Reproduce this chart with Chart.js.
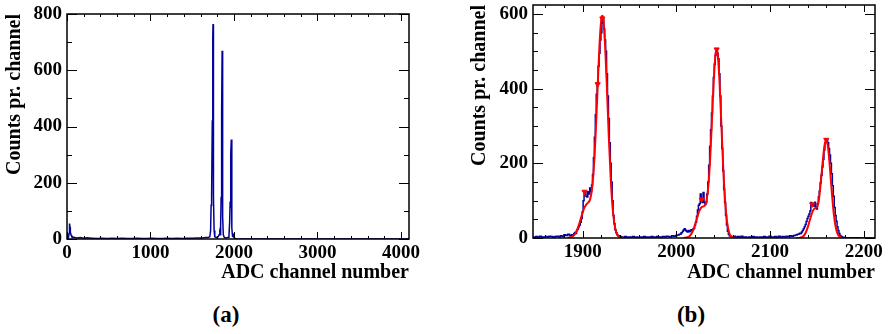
<!DOCTYPE html>
<html>
<head>
<meta charset="utf-8">
<script src="https://cdn.jsdelivr.net/npm/chart.js@4.4.0/dist/chart.umd.min.js"></script>
<style>
  html, body { margin: 0; padding: 0; background: #fff; }
  #wrap { position: relative; width: 893px; height: 334px; overflow: hidden; }
  canvas { position: absolute; top: 0; }
  #chartA { left: 0; }
  #chartB { left: 440px; }
  .caption { position: absolute; top: 302px; transform: translateX(-50%);
             font-weight: bold; font-size: 23px; color: #000;
             font-family: 'Liberation Serif', 'Times New Roman', Times, 'DejaVu Serif', serif; }
</style>
</head>
<body>
<div id="wrap">
  <canvas id="chartA" width="440" height="290"></canvas>
  <canvas id="chartB" width="453" height="290"></canvas>
  <div class="caption" style="left:226px">(a)</div>
  <div class="caption" style="left:691px">(b)</div>
</div>
<script>
// (a) 全譜
const leftChannels = [0, 16, 24, 28, 32, 36, 40, 48, 56, 64, 80, 96, 120, 160, 200, 240, 300, 360, 420, 480,
  540, 600, 660, 720, 780, 840, 900, 960, 1020, 1080, 1140, 1200, 1260, 1320, 1380, 1440, 1500, 1560, 1620,
  1660, 1690, 1710, 1720, 1726, 1730, 1734, 1740, 1746, 1749, 1752, 1756, 1762, 1770, 1790, 1810, 1822, 1830,
  1836, 1840, 1846, 1850, 1854, 1858, 1862, 1866, 1872, 1885, 1910, 1930, 1940, 1948, 1954, 1958, 1964, 1968,
  1972, 1976, 1982, 1990, 1997, 2002, 2010, 2020, 2500, 3000, 4096];
const leftCounts = [0, 2, 20, 48, 55, 42, 25, 14, 9, 7, 6, 5, 4, 5, 3, 4, 3, 2, 3, 2,
  3, 2, 3, 2, 2, 3, 2, 2, 3, 2, 2, 3, 2, 3, 2, 3, 3, 4, 4,
  5, 5, 8, 30, 120, 168, 150, 420, 720, 764, 500, 150, 30, 8, 5, 8, 15, 22,
  15, 50, 150, 130, 450, 669, 380, 80, 15, 5, 4, 6, 12, 60, 133, 110, 300, 354,
  180, 40, 10, 8, 20, 5, 1, 0, 0, 0, 0];

// (b) 放大的三個峰
const rightChannels = [1847, 1849, 1851, 1853, 1855, 1857, 1859, 1861, 1863, 1865, 1867, 1869, 1871, 1873, 1875,
  1877, 1879, 1881, 1883, 1885, 1887, 1889, 1890, 1891, 1892, 1893, 1894, 1895, 1896, 1897, 1898, 1899, 1900,
  1901, 1902, 1903, 1904, 1905, 1906, 1907, 1908, 1909, 1910, 1911, 1912, 1913, 1914, 1915, 1916, 1917, 1918,
  1919, 1920, 1921, 1922, 1923, 1924, 1925, 1926, 1927, 1928, 1929, 1930, 1931, 1932, 1933, 1934, 1935, 1936,
  1937, 1938, 1940, 1942, 1944, 1946, 1948, 1950, 1952, 1954, 1956, 1958, 1960, 1962, 1964, 1966, 1968, 1970,
  1972, 1974, 1976, 1978, 1980, 1982, 1984, 1986, 1988, 1990, 1992, 1994, 1996, 1998, 2000, 2002, 2004, 2006,
  2007, 2008, 2009, 2010, 2011, 2012, 2013, 2014, 2015, 2016, 2017, 2018, 2019, 2020, 2021, 2022, 2023, 2024,
  2025, 2026, 2027, 2028, 2029, 2030, 2031, 2032, 2033, 2034, 2035, 2036, 2037, 2038, 2039, 2040, 2041, 2042,
  2043, 2044, 2045, 2046, 2047, 2048, 2049, 2050, 2051, 2052, 2053, 2054, 2055, 2056, 2057, 2058, 2060, 2062,
  2064, 2066, 2068, 2070, 2072, 2074, 2076, 2078, 2080, 2082, 2084, 2086, 2088, 2090, 2092, 2094, 2096, 2098,
  2100, 2102, 2104, 2106, 2108, 2110, 2112, 2114, 2116, 2118, 2120, 2122, 2124, 2126, 2128, 2130, 2131, 2132,
  2133, 2134, 2135, 2136, 2137, 2138, 2139, 2140, 2141, 2142, 2143, 2144, 2145, 2146, 2147, 2148, 2149, 2150,
  2151, 2152, 2153, 2154, 2155, 2156, 2157, 2158, 2159, 2160, 2161, 2162, 2163, 2164, 2165, 2166, 2167, 2168,
  2169, 2170, 2171, 2172, 2173, 2174, 2175, 2176, 2178, 2180, 2212];
const rightCounts = [3, 2, 4, 3, 5, 3, 2, 4, 3, 5, 4, 2, 4, 5, 3,
  6, 4, 9, 7, 10, 6, 9, 8, 12, 15, 12, 20, 24, 30, 35, 42, 52, 70, 100,
  118, 124, 112, 110, 124, 118, 134, 124, 142, 170, 215, 270, 330, 385, 415, 460, 495, 530,
  550, 575, 585, 560, 530, 500, 440, 380, 320, 255, 200, 150, 100, 60, 38, 22, 14, 9,
  6, 4, 3, 2, 4, 1, 3, 2, 4, 2, 3, 1, 3, 2, 4, 2, 3, 2,
  4, 3, 2, 4, 3, 2, 4, 3, 5, 4, 3, 6, 5, 7, 8, 10, 14, 18,
  22, 25, 21, 18, 16, 20, 17, 19, 22, 20, 24, 26, 34, 42, 58, 75, 88, 92,
  118, 104, 95, 122, 96, 90, 95, 118, 150, 195, 245, 290, 335, 380, 430, 465, 490, 500,
  495, 480, 440, 380, 300, 240, 180, 130, 95, 60, 35, 18, 10, 6, 4, 3, 5, 2,
  4, 3, 5, 2, 3, 1, 3, 2, 4, 2, 3, 1, 3, 2, 4, 2, 3, 5,
  2, 3, 4, 2, 5, 3, 4, 3, 5, 4, 6, 5, 7, 8, 10, 11, 13, 12,
  16, 20, 25, 30, 36, 44, 52, 58, 64, 72, 95, 88, 90, 86, 96, 84, 78, 92,
  110, 126, 148, 168, 190, 210, 236, 255, 265, 262, 255, 240, 222, 200, 172, 140, 112, 82,
  60, 45, 30, 20, 12, 7, 4, 2, 1, 0, 0];

// 擬合曲線（三段，以 null 隔開）
const fitChannels = [1884, 1886, 1888, 1890, 1892, 1894, 1896, 1898, 1900, 1902, 1904, 1906, 1908, 1910, 1912,
  1914, 1916, 1918, 1920, 1921, 1922, 1924, 1926, 1928, 1930, 1932, 1934, 1936, 1938, 1940, 1942, 1944,
  1976,
  2008, 2010, 2012, 2014, 2016, 2018, 2020, 2022, 2024, 2026, 2028, 2030, 2032, 2034, 2036, 2038, 2040, 2042,
  2043, 2044, 2046, 2048, 2050, 2052, 2054, 2056, 2058, 2060, 2062, 2064,
  2096,
  2128, 2130, 2132, 2134, 2136, 2138, 2140, 2142, 2144, 2146, 2148, 2150, 2152, 2154, 2156, 2158, 2160, 2162,
  2164, 2166, 2168, 2170, 2172, 2174, 2176, 2178];
const fitCounts = [0, 1, 2.5, 5.6, 11.5, 21, 35, 52, 68, 82, 90, 95, 104, 132, 191,
  286, 405, 519, 588, 595, 586, 513, 394, 265, 156, 80, 36, 14.5, 5, 1.5, 0.4, 0,
  null,
  0, 1, 2, 5, 11, 21, 36, 53, 69, 80, 84, 86, 98, 136, 210, 317, 427, 497,
  505, 495, 422, 306, 189, 100, 45, 17, 5.6, 1.6, 0.4, 0,
  null,
  0, 0.3, 1, 2, 6, 14, 27, 44, 61, 74, 80, 82, 100, 145, 199, 246, 264, 240,
  185, 120, 65, 30, 12, 4, 1, 0];

// 峰位標記
const markChannels = [1902, 1916, 1921, 2027, 2043, 2145, 2160];
const markCounts = [124, 412, 588, 103, 505, 90, 263];

// 刻度
const leftXTicks = [0, 1000, 2000, 3000, 4000];
const leftYTicks = [0, 200, 400, 600, 800];
const rightXTicks = [1900, 2000, 2100, 2200];
const rightYTicks = [0, 200, 400, 600];

const BLUE = '#00009a';
const RED = '#ff0000';
const FONT = "'Liberation Serif', 'Times New Roman', Times, 'DejaVu Serif', serif";

function pairs(xs, ys) {
    return xs.map((x, i) => ({ x: x, y: ys[i] }));
}

// ROOT 風格外框與朝內刻度
const rootFrame = {
    id: 'rootFrame',
    afterDatasetsDraw(chart, args, opts) {
        const { ctx, chartArea: a, scales } = chart;
        ctx.save();
        ctx.strokeStyle = '#000';
        ctx.lineWidth = 1;
        const xs = scales.x, ys = scales.y;
        const tickX = (v, len) => {
            const px = Math.round(xs.getPixelForValue(v)) + 0.5;
            ctx.beginPath();
            ctx.moveTo(px, a.bottom); ctx.lineTo(px, a.bottom - len);
            ctx.moveTo(px, a.top); ctx.lineTo(px, a.top + len);
            ctx.stroke();
        };
        const tickY = (v, len) => {
            const py = Math.round(ys.getPixelForValue(v)) + 0.5;
            ctx.beginPath();
            ctx.moveTo(a.left, py); ctx.lineTo(a.left + len, py);
            ctx.moveTo(a.right, py); ctx.lineTo(a.right - len, py);
            ctx.stroke();
        };
        for (let v = opts.xFrom; v <= xs.max; v += opts.xMinor) tickX(v, 3);
        opts.xMajor.forEach(v => tickX(v, 7));
        for (let v = 0; v <= ys.max; v += opts.yMinor) tickY(v, 5);
        opts.yMajor.forEach(v => tickY(v, 10));
        ctx.lineWidth = 1.5;
        ctx.strokeRect(a.left, a.top, a.right - a.left, a.bottom - a.top);
        ctx.restore();
    }
};

function makeScales(xMin, xMax, yMax, xTicks, yTicks, xHeight, yWidth, yTitlePad) {
    const font = { family: FONT, size: 19, weight: 'bold' };
    const titleFont = { family: FONT, size: 20, weight: 'bold' };
    return {
        x: {
            type: 'linear', min: xMin, max: xMax,
            afterBuildTicks: s => { s.ticks = xTicks.map(v => ({ value: v })); },
            afterFit: s => { s.height = xHeight; s.paddingLeft = 0; s.paddingRight = 0; },
            grid: { display: false, drawTicks: false },
            border: { display: false },
            ticks: { padding: 3, maxRotation: 0, autoSkip: false, color: '#000', font: font,
                     callback: v => String(v) },
            title: { display: true, text: 'ADC channel number', align: 'end', color: '#000', font: titleFont,
                     padding: { top: 0, bottom: 5 } }
        },
        y: {
            type: 'linear', min: 0, max: yMax,
            afterBuildTicks: s => { s.ticks = yTicks.map(v => ({ value: v })); },
            afterFit: s => { s.width = yWidth; s.paddingTop = 0; s.paddingBottom = 0; },
            grid: { display: false, drawTicks: false },
            border: { display: false },
            ticks: { padding: 5, color: '#000', font: font, callback: v => String(v) },
            title: { display: true, text: 'Counts pr. channel', align: 'end', color: '#000', font: titleFont,
                     padding: { top: yTitlePad, bottom: 0 } }
        }
    };
}

const common = {
    responsive: false,
    animation: false,
    parsing: false,
    elements: { point: { radius: 0 } }
};

function drawCharts() {
    new Chart(document.getElementById('chartA'), {
        type: 'line',
        data: {
            datasets: [{
                data: pairs(leftChannels, leftCounts),
                borderColor: BLUE, borderWidth: 1.5, tension: 0, pointRadius: 0
            }]
        },
        options: Object.assign({}, common, {
            layout: { padding: { left: 0, top: 14, right: 31, bottom: 0 } },
            scales: makeScales(0, 4096, 800, leftXTicks, leftYTicks, 51, 67, 3),
            plugins: {
                legend: { display: false }, tooltip: { enabled: false },
                rootFrame: { xFrom: 0, xMinor: 200, xMajor: leftXTicks, yMinor: 100, yMajor: leftYTicks }
            }
        }),
        plugins: [rootFrame]
    });

    new Chart(document.getElementById('chartB'), {
        type: 'line',
        data: {
            datasets: [
                {
                    type: 'scatter',
                    data: pairs(markChannels, markCounts),
                    pointStyle: 'triangle', rotation: 180, pointRadius: 3,
                    backgroundColor: RED, borderColor: RED, borderWidth: 1, showLine: false, order: 0
                },
                {
                    data: pairs(fitChannels, fitCounts),
                    borderColor: RED, borderWidth: 2, cubicInterpolationMode: 'monotone',
                    spanGaps: false, pointRadius: 0, order: 1
                },
                {
                    data: pairs(rightChannels, rightCounts),
                    borderColor: BLUE, borderWidth: 1.5, stepped: 'middle', pointRadius: 0, order: 2
                }
            ]
        },
        options: Object.assign({}, common, {
            layout: { padding: { left: 0, top: 4, right: 18, bottom: 0 } },
            scales: makeScales(1847, 2212, 624, rightXTicks, rightYTicks, 52, 93, 28),
            plugins: {
                legend: { display: false }, tooltip: { enabled: false },
                rootFrame: { xFrom: 1860, xMinor: 20, xMajor: rightXTicks, yMinor: 50, yMajor: rightYTicks }
            }
        }),
        plugins: [rootFrame]
    });
}

drawCharts();
</script>
</body>
</html>
